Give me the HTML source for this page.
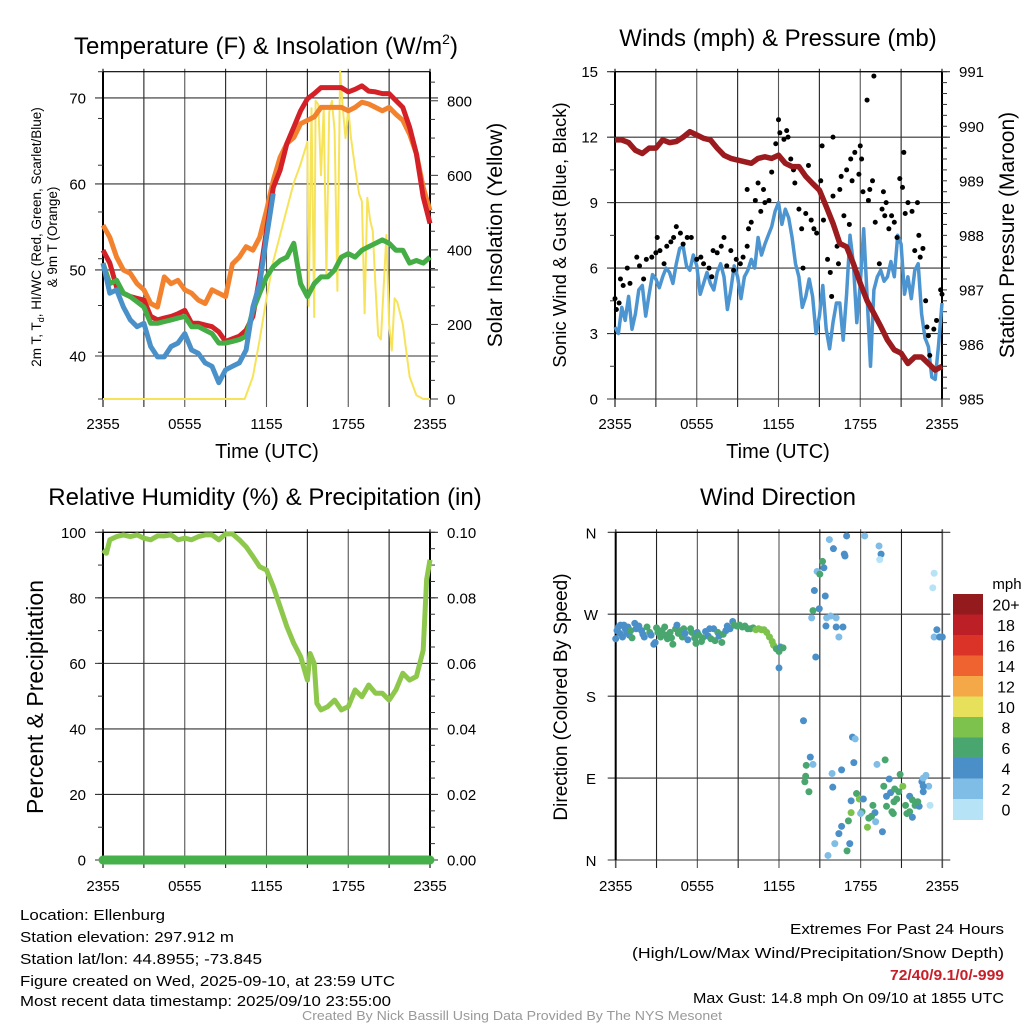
<!DOCTYPE html>
<html><head><meta charset="utf-8">
<style>
html,body{margin:0;padding:0;background:#fff;}
svg{display:block;font-family:"Liberation Sans",Arial,sans-serif;}
</style></head>
<body>
<svg id="chart" width="1024" height="1024" viewBox="0 0 1024 1024" xmlns="http://www.w3.org/2000/svg">
<rect width="1024" height="1024" fill="#fff"/>
<text x="266" y="54" font-size="24" text-anchor="middle">Temperature (F) &amp; Insolation (W/m<tspan dy="-10" font-size="14">2</tspan><tspan dy="10">)</tspan></text>
<text x="778" y="46" font-size="24" text-anchor="middle">Winds (mph) &amp; Pressure (mb)</text>
<text x="265" y="505" font-size="24" text-anchor="middle">Relative Humidity (%) &amp; Precipitation (in)</text>
<text x="778" y="505" font-size="24" text-anchor="middle">Wind Direction</text>

<text transform="translate(41,237) rotate(-90)" font-size="13.5" text-anchor="middle">2m T, T<tspan font-size="9" dy="3">d</tspan><tspan dy="-3">, HI/WC (Red, Green, Scarlet/Blue)</tspan></text>
<text transform="translate(57,237) rotate(-90)" font-size="13.5" text-anchor="middle">&amp; 9m T (Orange)</text>
<text transform="translate(502,235) rotate(-90)" font-size="21" text-anchor="middle">Solar Insolation (Yellow)</text>
<text transform="translate(566,235) rotate(-90)" font-size="18.5" text-anchor="middle">Sonic Wind &amp; Gust (Blue, Black)</text>
<text transform="translate(1014,235) rotate(-90)" font-size="21" text-anchor="middle">Station Pressure (Maroon)</text>
<text transform="translate(43,697) rotate(-90)" font-size="23" text-anchor="middle">Percent &amp; Precipitation</text>
<text transform="translate(567,697) rotate(-90)" font-size="19" text-anchor="middle">Direction (Colored By Speed)</text>
<text x="267" y="458" font-size="20" text-anchor="middle">Time (UTC)</text>
<text x="778" y="458" font-size="20" text-anchor="middle">Time (UTC)</text>

<g font-size="15">
<text x="20" y="920" textLength="145" lengthAdjust="spacingAndGlyphs">Location: Ellenburg</text>
<text x="20" y="942" textLength="214" lengthAdjust="spacingAndGlyphs">Station elevation: 297.912 m</text>
<text x="20" y="964" textLength="242" lengthAdjust="spacingAndGlyphs">Station lat/lon: 44.8955; -73.845</text>
<text x="20" y="986" textLength="375" lengthAdjust="spacingAndGlyphs">Figure created on Wed, 2025-09-10, at 23:59 UTC</text>
<text x="20" y="1006" textLength="371" lengthAdjust="spacingAndGlyphs">Most recent data timestamp: 2025/09/10 23:55:00</text>
</g>
<g font-size="15" text-anchor="end">
<text x="1004" y="934" textLength="214" lengthAdjust="spacingAndGlyphs">Extremes For Past 24 Hours</text>
<text x="1004" y="958" textLength="372" lengthAdjust="spacingAndGlyphs">(High/Low/Max Wind/Precipitation/Snow Depth)</text>
<text x="1004" y="980" font-weight="bold" fill="#c81e28" textLength="114" lengthAdjust="spacingAndGlyphs">72/40/9.1/0/-999</text>
<text x="1004" y="1003" textLength="311" lengthAdjust="spacingAndGlyphs">Max Gust: 14.8 mph On 09/10 at 1855 UTC</text>
</g>
<text x="512" y="1020" font-size="13" fill="#999" text-anchor="middle" textLength="420" lengthAdjust="spacingAndGlyphs">Created By Nick Bassill Using Data Provided By The NYS Mesonet</text>
</svg>
<script>
// ---------- data ----------
const halfHours = [0,0.5,1,1.5,2,2.5,3,3.5,4,4.5,5,5.5,6,6.5,7,7.5,8,8.5,9,9.5,10,10.5,11,11.5,12,12.5,13,13.5,14,14.5,15,15.5,16,16.5,17,17.5,18,18.5,19,19.5,20,20.5,21,21.5,22,22.5,23,23.5,24];
const tempRed = [52.3,50.8,48,47.3,46.9,46.7,46.5,44.6,44.2,44.4,44.6,44.9,45.3,43.8,43.8,43.6,43.4,42.8,41.7,42.0,42.3,43,44.6,49.2,54.6,59.6,61.6,64.7,66.6,68.5,69.9,70.5,71.2,71.2,71.2,71.2,70.7,71,71.4,70.8,70.7,70.5,70.5,69.7,68.9,66.6,63.5,58.5,55.4];
const temp9mOrange = [55.2,53.8,51.5,50,49.6,48.4,47.7,46.1,45.7,49.2,48.4,48.8,47.7,47.3,46.5,46.1,47.7,47.3,46.9,50.7,51.5,52.7,52.3,53.8,56.9,60.4,63.1,64.7,65.4,67,67.4,67.8,68.9,68.9,68.9,68.9,68.5,68.9,69.5,69.3,68.9,68.5,68.9,68.1,67.4,65.8,63.5,59.6,56.9];
const dewGreen = [50.8,48.4,48.8,47.3,46.9,46.3,45.7,43.8,43.8,44.0,44.2,44.4,44.6,43.4,43.4,43.0,42.6,41.5,41.5,41.7,41.9,42.3,45.3,47.3,49.2,50.4,51.1,51.5,53.1,48.4,46.9,48.4,49.2,49.2,50,51.5,51.9,51.5,52.3,52.7,53.1,53.5,53.1,52.3,52.3,50.8,51.1,50.8,51.5];
const windChillBlue = [50.8,47.3,47.7,45.7,44.2,43.4,43.8,41.1,39.9,39.9,41.1,41.5,42.6,40.7,40.3,39.2,38.8,36.9,38.4,38.8,39.2,40.7,45.7,48.4,53.8,58.9];
const solarHours = [0,10.4,11,11.5,12,12.5,13,13.5,14,14.5,15,15.1,15.3,15.5,15.6,15.8,16,16.2,16.4,16.6,16.8,17,17.2,17.4,17.6,17.8,18,18.2,18.5,18.8,19,19.2,19.4,19.6,19.8,20,20.2,20.4,20.8,21,21.2,21.4,21.6,22,22.5,23,23.5,24];
const solarVals = [0,0,60,160,270,370,440,510,580,630,690,250,780,220,800,790,600,780,330,770,800,720,290,880,780,700,780,700,620,550,530,230,540,480,450,300,170,160,440,200,130,270,260,200,60,10,0,0];
const tempTicks = [40,50,60,70];
const solarTicks = [0,200,400,600,800];
const timeLabels = ['2355','0555','1155','1755','2355'];

const windQuarterHours = [0,0.25,0.5,0.75,1,1.25,1.5,1.75,2,2.25,2.5,2.75,3,3.25,3.5,3.75,4,4.25,4.5,4.75,5,5.25,5.5,5.75,6,6.25,6.5,6.75,7,7.25,7.5,7.75,8,8.25,8.5,8.75,9,9.25,9.5,9.75,10,10.25,10.5,10.75,11,11.25,11.5,11.75,12,12.25,12.5,12.75,13,13.25,13.5,13.75,14,14.25,14.5,14.75,15,15.25,15.5,15.75,16,16.25,16.5,16.75,17,17.25,17.5,17.75,18,18.25,18.5,18.75,19,19.25,19.5,19.75,20,20.25,20.5,20.75,21,21.25,21.5,21.75,22,22.25,22.5,22.75,23,23.25,23.5,23.75,24];
const windSpeed = [3.3,3.0,4.2,3.6,4.7,3.2,3.9,5.0,5.2,3.8,4.8,5.7,5.5,5.1,5.6,6.0,5.8,5.3,6.2,6.9,7.0,6.1,5.9,6.6,6.1,4.8,5.3,5.8,5.3,5.0,5.8,6.2,5.6,4.1,5.0,6.1,5.6,4.6,5.6,5.9,6.4,6.0,7.4,6.6,7.1,7.5,7.9,8.6,9.0,8.0,8.7,8.3,7.4,6.2,5.6,4.2,4.7,5.5,4.7,3.0,3.8,5.2,3.2,2.3,3.5,4.4,4.4,2.7,4.8,7.5,6.2,3.5,5.3,7.8,4.7,1.5,5.0,5.6,5.9,5.4,5.6,6.3,5.6,7.5,7.1,4.8,5.6,4.6,5.9,6.2,3.9,2.8,2.4,1.0,0.9,2.5,4.4];
const gustHours = [0,0.1,0.3,0.4,0.6,0.9,1.1,1.6,1.8,2.1,2.3,2.7,3.0,3.1,3.3,3.6,3.8,4.1,4.3,4.5,4.8,5.0,5.3,5.6,6.0,6.3,6.5,6.9,7.1,7.2,7.5,7.8,8.0,8.2,8.5,8.7,8.9,9.2,9.4,9.7,9.8,10.0,9.7,10.3,10.5,10.7,10.9,11.0,11.3,11.5,11.8,12.0,12.1,12.4,12.6,12.7,12.9,13.1,13.2,13.5,13.7,13.8,14.0,14.2,14.4,14.6,14.8,15.1,15.2,15.3,15.6,15.8,15.9,16.0,16.0,16.3,16.4,16.5,16.6,16.8,17.0,17.2,17.3,17.4,17.6,17.9,18.0,18.1,18.2,18.5,18.6,18.7,18.9,19.0,19.1,19.4,19.6,19.7,19.8,19.9,20.1,20.3,20.5,20.7,20.9,21.1,21.2,21.3,21.5,21.8,22.0,22.2,22.3,22.4,22.6,22.8,22.9,23.0,23.1,23.4,23.6,23.9,24.0];
const gustVals = [4.6,4.1,4.4,5.5,5.2,6.0,5.3,6.5,6.1,5.5,6.4,6.5,6.7,7.4,6.8,6.2,7.0,7.2,7.4,7.9,7.6,7.1,7.4,7.4,6.4,6.5,6.2,6.0,5.6,6.8,6.7,7.0,7.4,6.1,6.8,5.9,6.4,6.2,6.5,7.0,7.8,8.1,9.6,9.1,9.9,8.6,9.6,9.0,9.1,10.4,11.7,12.8,12.2,11.9,12.3,12.0,11.0,10.5,9.9,8.7,7.8,6.0,8.5,10.7,8.2,7.8,7.6,10.0,11.6,8.2,6.4,5.8,4.7,9.3,12.0,7.0,6.2,9.6,10.2,8.4,10.5,8.0,11.0,10.0,11.3,10.3,11.6,11.0,9.5,13.7,9.1,9.6,10.0,14.8,8.1,6.2,8.7,9.5,8.4,9.0,7.8,8.4,8.1,7.4,10.1,9.7,11.3,8.5,9.0,8.6,6.8,9.0,7.5,6.5,6.9,4.5,3.3,2.9,2.0,3.2,3.6,5.0,4.8];
const pressure = [989.75,989.75,989.7,989.56,989.5,989.6,989.6,989.75,989.7,989.72,989.8,989.9,989.84,989.78,989.75,989.6,989.47,989.41,989.38,989.35,989.32,989.41,989.44,989.41,989.47,989.32,989.26,989.26,989.08,988.95,988.83,988.53,988.22,987.85,987.79,987.48,987.12,986.8,986.57,986.33,986.08,985.9,985.84,985.65,985.77,985.77,985.65,985.53,985.6];
const windTicks = [0,3,6,9,12,15];
const pressureTicks = [985,986,987,988,989,990,991];

const rhHours = [0,0.25,0.5,1,1.5,2,2.5,3,3.5,4,4.5,5,5.5,6,6.5,7,7.5,8,8.5,9,9.5,10,10.5,11,11.5,12,12.5,13,13.5,14,14.5,15,15.2,15.5,15.7,16,16.5,17,17.5,18,18.5,19,19.5,20,20.5,21,21.5,22,22.5,23,23.5,23.75,24];
const rhVals = [94.6,93.6,97.7,98.7,99.2,98.7,99.2,98.2,97.7,98.9,98.9,99.2,97.7,98.2,97.7,98.7,99.2,99.2,97.7,99.5,99.5,97.7,95.6,92.6,89.5,88.5,83.4,77.3,71.2,66.1,62.1,54.9,63,60,47.8,45.8,46.8,48.8,45.8,46.8,51.9,49.8,53.4,50.9,50.9,48.8,51.9,57,54.9,56,64,85.5,91.6];
const precipHours = [0,24];
const precipVals = [0,0];
const rhTicks = [0,20,40,60,80,100];
const precipTicks = ['0.00','0.02','0.04','0.06','0.08','0.10'];

const dirHours = [0.0,0.1,0.2,0.3,0.35,0.5,0.6,0.7,0.8,0.9,1.0,1.1,1.2,1.4,1.5,1.7,1.9,2.0,2.1,2.3,2.5,2.6,2.8,2.9,3.0,3.1,3.3,3.4,3.6,3.7,3.8,4.0,4.1,4.2,4.4,4.5,4.6,4.8,4.9,5.0,5.1,5.3,5.5,5.6,5.8,5.9,6.0,6.1,6.3,6.4,6.6,6.8,6.9,7.0,7.2,7.3,7.5,7.6,7.8,7.9,8.1,8.2,8.4,8.6,8.7,8.9,9.1,9.3,9.5,9.7,9.9,10.1,10.3,10.5,10.7,10.9,11.1,11.3,11.5,11.6,11.8,12.0,12.1,12.3,12.0,
13.8,14.3,14.0,13.96,13.9,14.2,14.5,14.6,14.8,15.0,15.2,15.3,15.4,14.96,14.5,14.4,14.7,15.45,15.5,15.8,16.2,16.2,16.7,16.4,15.7,16.0,16.8,16.85,16.97,18.3,19.35,19.5,19.4,23.4,23.3,23.6,23.4,23.8,24,15.9,15.95,16.6,17.4,17.6,17.5,17.3,17.7,17.9,18.2,17.3,17.1,16.6,16.4,17.2,16.1,15.6,17.0,18.1,18.0,18.6,18.9,19.1,18.5,19.6,19.05,18.8,19.2,19.8,20.1,19.7,19.9,20.2,20.45,20.5,20.9,21.1,20.65,20.3,19.9,21.3,21.6,21.8,22.0,21.6,21.8,21.4,22.3,22.2,22.6,22.5,22.6,22.8,23.0,23.1,22.6,20.4,20.8];
const dirDegrees = [243,252,256,249,258,245,258,254,250,256,247,252,244,260,254,257,252,248,245,256,250,247,237,239,255,250,245,252,256,247,243,250,244,237,254,258,249,252,245,254,249,242,254,250,244,238,250,247,240,244,251,246,254,243,254,241,250,246,239,248,252,257,254,262,258,257,258,256,257,254,254,255,253,254,253,253,250,245,240,236,232,229,234,233,211,
153,113,104,92,86,75,105,296,317,314,328,321,290,276,274,266,223,257,266,268,266,256,256,245,352,342,336,334,356,356,345,336,330,315,299,253,245,245,245,95,80,99,135,133,107,65,73,67,67,52,43,37,29,18,18,5,10,53,51,46,60,42,36,31,52,48,105,110,89,81,70,74,64,78,94,81,67,53,59,60,70,66,60,53,47,51,59,64,75,86,90,93,81,60,81,51,75];
const dirSpeeds = [4,4,4,4,4,4,4,4,4,4,4,6,6,4,4,4,4,4,4,6,6,4,4,4,6,6,6,6,6,6,6,6,6,6,6,4,6,6,6,6,4,4,6,6,6,6,4,6,6,6,4,4,4,6,4,6,6,4,6,6,4,4,4,4,6,6,6,6,6,6,6,6,8,8,8,8,8,8,8,8,6,6,4,6,4,
4,4,6,6,6,6,2,4,2,6,6,4,4,4,6,2,4,4,2,2,2,4,4,2,2,4,4,4,4,2,2,4,0,0,0,4,2,4,4,2,4,4,4,2,4,4,6,8,4,8,6,4,4,4,2,2,6,6,2,6,6,2,8,4,4,6,2,6,4,6,4,4,6,6,6,8,6,6,6,6,4,6,6,6,4,6,4,6,4,4,2,2,2,0,4,6,6];
const dirLabels = ['N','E','S','W','N'];
const speedBins = ['0','2','4','6','8','10','12','14','16','18','20+'];
const speedColors = ['#b7e3f6','#7fbce6','#4a8fc8','#4aa66f','#7dc24c','#e6e05a','#f5a847','#ef6330','#dc3329','#bd1f26','#931a1d'];

// ---------- helpers ----------
const NS='http://www.w3.org/2000/svg';
const svg=document.getElementById('chart');
function mk(tag,attrs,parent){const e=document.createElementNS(NS,tag);for(const k in attrs)e.setAttribute(k,attrs[k]);(parent||svg).appendChild(e);return e;}
function xScale(p,h){return p.x0+(h/24)*(p.x1-p.x0);}
function yScale(p,v,lo,hi){return p.y1-(v-lo)/(hi-lo)*(p.y1-p.y0);}
function pathD(p,hs,vs,lo,hi){let d='';for(let i=0;i<vs.length;i++){d+=(i?'L':'M')+xScale(p,hs[i]).toFixed(1)+','+yScale(p,vs[i],lo,hi).toFixed(1);}return d;}

const P1={x0:103,x1:430,y0:71.7,y1:399};
const P2={x0:615,x1:942,y0:71.7,y1:399};
const P3={x0:103,x1:430,y0:532.3,y1:860};
const P4={x0:615.7,x1:942.3,y0:532.3,y1:860};

function frame(p,name,hLines,rightBorder,xLabelY){
  const g=mk('g',{});
  
  
  for(let k=0;k<=8;k++){
    const x=p.x0+k*(p.x1-p.x0)/8;
    const l=mk('line',{x1:x,x2:x,y1:p.y0-3,y2:p.y1+8,stroke:(k%2?'#222':'#555'),'stroke-width':(k===0||k===8)?1.6:1.1},g);
    
    
  }
  hLines.forEach(y=>{
    const l=mk('line',{x1:p.x0-8,x2:p.x1+8,y1:y,y2:y,stroke:'#333','stroke-width':1.1},g);
    
    
  });
  const top=mk('line',{x1:p.x0,x2:p.x1,y1:p.y0,y2:p.y0,stroke:'#000','stroke-width':1.2},g);
  
  
  const lb=mk('line',{x1:p.x0,x2:p.x0,y1:p.y0,y2:p.y1,stroke:'#000','stroke-width':2},g);
  
  
  if(rightBorder){
    const rb=mk('line',{x1:p.x1,x2:p.x1,y1:p.y0,y2:p.y1,stroke:'#000','stroke-width':2},g);
    
    
  }
  timeLabels.forEach((t,i)=>{
    const tx=mk('text',{x:p.x0+i*(p.x1-p.x0)/4,y:xLabelY,'font-size':15,'text-anchor':'middle'});
    tx.textContent=t;
    
    
  });
}
function leftLabels(p,name,vals,lo,hi,xr){
  vals.forEach(v=>{
    const t=mk('text',{x:xr,y:yScale(p,v,lo,hi)+5.5,'font-size':15,'text-anchor':'end'});
    t.textContent=String(v);
    
    
  });
}
function rightAxis(p,name,labels,lo,hi,minorStep,xl){
  for(let v=lo;v<=hi+1e-9;v+=minorStep){
    const y=yScale(p,v,lo,hi);
    const m=mk('line',{x1:p.x1,x2:p.x1+5,y1:y,y2:y,stroke:'#333','stroke-width':1});
    
    
  }
  labels.forEach((lab,i)=>{
    const v=lo+i*(hi-lo)/(labels.length-1);
    const t=mk('text',{x:xl,y:yScale(p,v,lo,hi)+5.5,'font-size':15});
    t.textContent=String(lab);
    
    
  });
}
function leftMinor(p,name,lo,hi,step){
  for(let v=lo;v<=hi+1e-9;v+=step){
    const y=yScale(p,v,lo,hi);
    const m=mk('line',{x1:p.x0-5,x2:p.x0,y1:y,y2:y,stroke:'#333','stroke-width':1});
    
    
  }
}

// ---------- Panel 1: temperature ----------
const T_LO=35, T_HI=73.05, S_LO=0, S_HI=878;
frame(P1,'temperature',tempTicks.map(v=>yScale(P1,v,T_LO,T_HI)),true,429);
leftMinor(P1,'temperature',35,70,5);
leftLabels(P1,'temperature',tempTicks,T_LO,T_HI,86);
(function(){
  for(let v=0;v<=850;v+=50){const y=yScale(P1,v,S_LO,S_HI);
    const m=mk('line',{x1:P1.x1,x2:P1.x1+(v%200===0?8:5),y1:y,y2:y,stroke:'#333','stroke-width':1});
    
    }
  solarTicks.forEach(v=>{const t=mk('text',{x:447,y:yScale(P1,v,S_LO,S_HI)+5.5,'font-size':15});t.textContent=String(v);
    
    });
})();
const solarLine=mk('path',{d:pathD(P1,solarHours,solarVals,S_LO,S_HI),fill:'none',stroke:'#f7e35a','stroke-width':2,'stroke-linejoin':'round'});


const orangeLine=mk('path',{d:pathD(P1,halfHours,temp9mOrange,T_LO,T_HI),fill:'none',stroke:'#f3822f','stroke-width':5,'stroke-linejoin':'round'});


const redLine=mk('path',{d:pathD(P1,halfHours,tempRed,T_LO,T_HI),fill:'none',stroke:'#d42027','stroke-width':5,'stroke-linejoin':'round'});


const greenLine=mk('path',{d:pathD(P1,halfHours,dewGreen,T_LO,T_HI),fill:'none',stroke:'#44ad45','stroke-width':5,'stroke-linejoin':'round'});


const blueLine=mk('path',{d:pathD(P1,halfHours.slice(0,windChillBlue.length),windChillBlue,T_LO,T_HI),fill:'none',stroke:'#4a90c9','stroke-width':5,'stroke-linejoin':'round'});



// ---------- Panel 2: winds ----------
const W_LO=0,W_HI=15,PR_LO=985,PR_HI=991;
frame(P2,'winds',windTicks.map(v=>yScale(P2,v,W_LO,W_HI)),true,429);
leftMinor(P2,'winds',0,15,1.5);
leftLabels(P2,'winds',windTicks,W_LO,W_HI,598);
rightAxis(P2,'pressure',pressureTicks,PR_LO,PR_HI,0.2,959);
const windLine=mk('path',{d:pathD(P2,windQuarterHours,windSpeed,W_LO,W_HI),fill:'none',stroke:'#4d95d0','stroke-width':3.5,'stroke-linejoin':'round'});


gustHours.forEach((h,i)=>{
  const c=mk('circle',{cx:xScale(P2,h),cy:yScale(P2,gustVals[i],W_LO,W_HI),r:2.5,fill:'#000'});
  
  
});
const presLine=mk('path',{d:pathD(P2,halfHours,pressure,PR_LO,PR_HI),fill:'none',stroke:'#9b1b1e','stroke-width':5.5,'stroke-linejoin':'round'});



// ---------- Panel 3: humidity ----------
const RH_LO=0,RH_HI=100;
frame(P3,'humidity',rhTicks.map(v=>yScale(P3,v,RH_LO,RH_HI)),true,891);
leftMinor(P3,'humidity',0,100,10);
leftLabels(P3,'humidity',rhTicks,RH_LO,RH_HI,86);
rightAxis(P3,'precipitation',precipTicks,RH_LO,RH_HI,5,447);
const rhLine=mk('path',{d:pathD(P3,rhHours,rhVals,RH_LO,RH_HI),fill:'none',stroke:'#8dc84c','stroke-width':5,'stroke-linejoin':'round'});


const prLine=mk('path',{d:pathD(P3,precipHours,precipVals,0,0.1),fill:'none',stroke:'#46b04b','stroke-width':9,'stroke-linecap':'round'});



// ---------- Panel 4: wind direction ----------
const D_LO=0,D_HI=360;
frame(P4,'direction',[0,90,180,270,360].map(v=>yScale(P4,v,D_LO,D_HI)),false,891);
dirLabels.forEach((lab,i)=>{
  const t=mk('text',{x:591,y:yScale(P4,i*90,D_LO,D_HI)+6,'font-size':15,'text-anchor':'middle'});
  t.textContent=lab;
  
  
});
dirHours.forEach((h,i)=>{
  const sp=(dirSpeeds[i]===undefined)?4:dirSpeeds[i];
  const bin=Math.min(10,Math.floor(sp/2));
  const c=mk('circle',{cx:xScale(P4,h),cy:yScale(P4,dirDegrees[i],D_LO,D_HI),r:3.5,fill:speedColors[bin]});
  
  
});
const cbTop=594,cbH=20.5;
const mph=mk('text',{x:1007,y:589,'font-size':15,'text-anchor':'middle'});
mph.textContent='mph';


speedBins.slice().reverse().forEach((lab,i)=>{
  const col=speedColors[10-i];
  const r=mk('rect',{x:953,y:cbTop+i*cbH,width:30,height:cbH+0.5,fill:col});
  
  
  const t=mk('text',{x:1006,y:cbTop+i*cbH+cbH/2+6,'font-size':16,'text-anchor':'middle'});
  t.textContent=lab;
  
  
});
</script>
</body></html>
